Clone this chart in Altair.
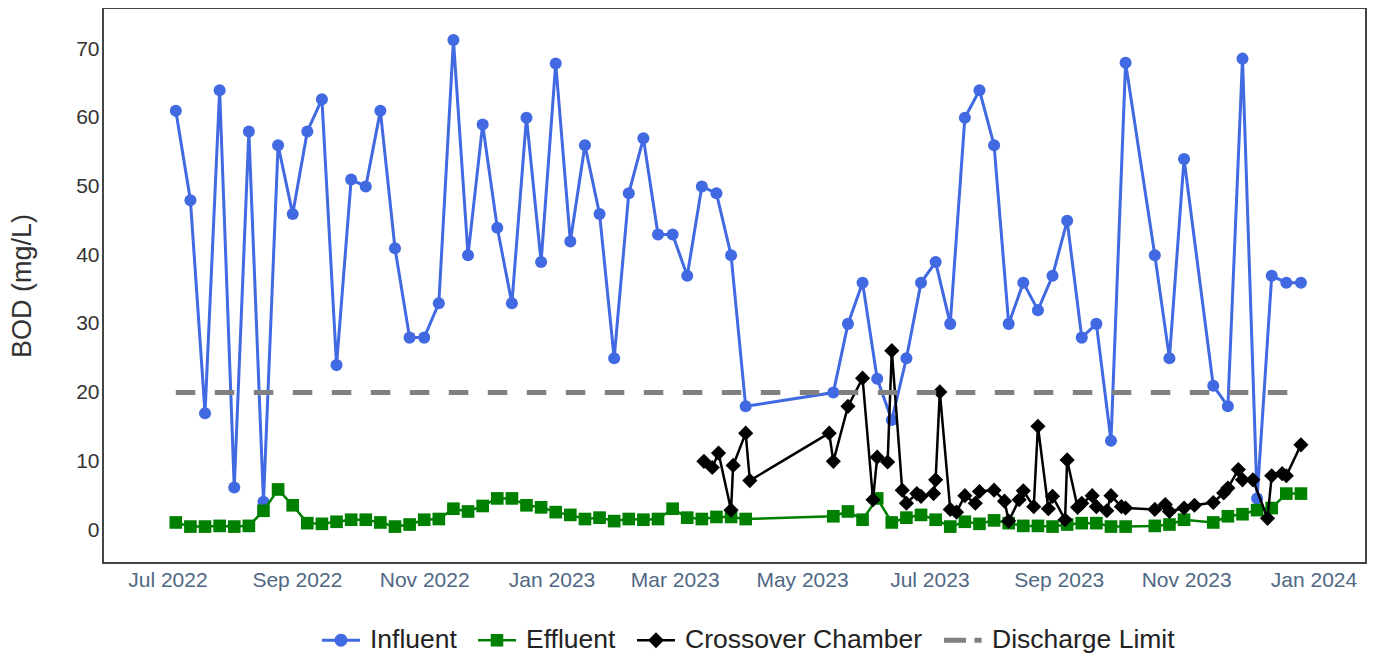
import altair as alt
import pandas as pd

# ---------------- data ----------------
week_dates = [
    "2022-07-05", "2022-07-12", "2022-07-19", "2022-07-26", "2022-08-02", "2022-08-09",
    "2022-08-16", "2022-08-23", "2022-08-30", "2022-09-06", "2022-09-13", "2022-09-20",
    "2022-09-27", "2022-10-04", "2022-10-11", "2022-10-18", "2022-10-25", "2022-11-01",
    "2022-11-08", "2022-11-15", "2022-11-22", "2022-11-29", "2022-12-06", "2022-12-13",
    "2022-12-20", "2022-12-27",
    "2023-01-03", "2023-01-10", "2023-01-17", "2023-01-24", "2023-01-31", "2023-02-07",
    "2023-02-14", "2023-02-21", "2023-02-28", "2023-03-07", "2023-03-14", "2023-03-21",
    "2023-03-28", "2023-04-04",
    "2023-05-16", "2023-05-23", "2023-05-30", "2023-06-06", "2023-06-13", "2023-06-20",
    "2023-06-27",
    "2023-07-04", "2023-07-11", "2023-07-18", "2023-07-25", "2023-08-01", "2023-08-08",
    "2023-08-15", "2023-08-22", "2023-08-29", "2023-09-05", "2023-09-12", "2023-09-19",
    "2023-09-26", "2023-10-03",
    "2023-10-17", "2023-10-24", "2023-10-31",
    "2023-11-14", "2023-11-21", "2023-11-28", "2023-12-05", "2023-12-12", "2023-12-19",
    "2023-12-26",
]

influent = [
    61, 48, 17, 64, 6.2, 58, 4.1, 56, 46, 58, 62.7, 24, 51, 50, 61, 41, 28, 28, 33, 71.3,
    40, 59, 44, 33, 60, 39,
    67.9, 42, 56, 46, 25, 49, 57, 43, 43, 37, 50, 49, 40, 18,
    20, 30, 36, 22, 16, 25, 36,
    39, 30, 60, 64, 56, 30, 36, 32, 37, 45, 28, 30, 13, 68,
    40, 25, 54,
    21, 18, 68.6, 4.6, 37, 36, 36,
]

effluent = [
    1.1, 0.5, 0.5, 0.6, 0.5, 0.6, 2.8, 5.9, 3.6, 1.0, 0.9, 1.2, 1.5, 1.5, 1.1, 0.5, 0.8,
    1.5, 1.6, 3.1, 2.7, 3.5, 4.6, 4.6, 3.6, 3.3,
    2.6, 2.2, 1.6, 1.8, 1.3, 1.6, 1.5, 1.6, 3.1, 1.8, 1.6, 1.9, 1.9, 1.6,
    2.0, 2.7, 1.5, 4.6, 1.1, 1.8, 2.2,
    1.5, 0.5, 1.2, 0.9, 1.4, 1.0, 0.6, 0.6, 0.5, 0.8, 1.0, 1.0, 0.5, 0.5,
    0.6, 0.8, 1.5,
    1.1, 2.0, 2.3, 2.9, 3.2, 5.3, 5.3,
]

crossover_dates = [
    "2023-03-15", "2023-03-19", "2023-03-22", "2023-03-28", "2023-03-29", "2023-04-04",
    "2023-04-06", "2023-05-14", "2023-05-16", "2023-05-23", "2023-05-30", "2023-06-04",
    "2023-06-06", "2023-06-11", "2023-06-13", "2023-06-18", "2023-06-20", "2023-06-25",
    "2023-06-27", "2023-07-03", "2023-07-04", "2023-07-06", "2023-07-11", "2023-07-14",
    "2023-07-18", "2023-07-23", "2023-07-25", "2023-08-01", "2023-08-06", "2023-08-08",
    "2023-08-13", "2023-08-15", "2023-08-20", "2023-08-22", "2023-08-27", "2023-08-29",
    "2023-09-04", "2023-09-05", "2023-09-10", "2023-09-12", "2023-09-17", "2023-09-19",
    "2023-09-24", "2023-09-26", "2023-10-01", "2023-10-03", "2023-10-17", "2023-10-22",
    "2023-10-24", "2023-10-31", "2023-11-05", "2023-11-14", "2023-11-19", "2023-11-21",
    "2023-11-26", "2023-11-28", "2023-12-03", "2023-12-10", "2023-12-12", "2023-12-17",
    "2023-12-19", "2023-12-26",
]

crossover = [
    10.0, 9.1, 11.2, 2.9, 9.4, 14.1,
    7.2, 14.1, 10.0, 18.0, 22.1, 4.4,
    10.6, 9.9, 26.1, 5.8, 3.9, 5.3,
    4.9, 5.3, 7.3, 20.1, 3.0, 2.6,
    5.0, 3.9, 5.6, 5.8, 4.2, 1.3,
    4.4, 5.7, 3.4, 15.1, 3.1, 4.9,
    1.5, 10.2, 3.3, 3.9, 5.0, 3.4,
    2.8, 5.0, 3.4, 3.2, 3.0, 3.7,
    2.7, 3.2, 3.6, 4.0, 5.4, 6.1,
    8.8, 7.3, 7.3, 1.7, 7.9, 8.2,
    7.9, 12.4,
]

limit_dates = ["2022-07-05", "2023-12-26"]
limit_values = [20, 20]

series_names = ["Influent", "Effluent", "Crossover Chamber", "Discharge Limit"]
series_colors = ["royalblue", "green", "black", "gray"]

x_tick_months = [(2022, 7), (2022, 9), (2022, 11), (2023, 1), (2023, 3),
                 (2023, 5), (2023, 7), (2023, 9), (2023, 11), (2024, 1)]
y_ticks = [0, 10, 20, 30, 40, 50, 60, 70]

# ---------------- tables ----------------
df_in = pd.DataFrame({"date": week_dates, "value": influent})
df_ef = pd.DataFrame({"date": week_dates, "value": effluent})
df_cr = pd.DataFrame({"date": crossover_dates, "value": crossover})
df_lim = pd.DataFrame({"date": limit_dates, "value": limit_values})
df_leg = pd.DataFrame({"series": series_names})

FONT = "Liberation Sans"

x_enc = alt.X(
    "date:T",
    scale=alt.Scale(
        type="utc",
        domain=[alt.DateTime(year=2022, month=5, date=31, hours=3, utc=True),
                alt.DateTime(year=2024, month=1, date=26, hours=4, utc=True)],
    ),
    axis=alt.Axis(
        title=None,
        values=[alt.DateTime(year=y, month=m, date=1, utc=True) for y, m in x_tick_months],
        format="%b %Y",
        labelFontSize=21,
        labelFont=FONT,
        labelColor="#506784",
        labelPadding=6,
        labelFlush=False,
        grid=False,
        ticks=False,
        domain=False,
    ),
)

y_enc = alt.Y(
    "value:Q",
    scale=alt.Scale(domain=[-4.8, 75.97], nice=False, zero=False),
    axis=alt.Axis(
        title="BOD (mg/L)",
        values=y_ticks,
        labelFontSize=21,
        labelFont=FONT,
        labelColor="#333333",
        labelPadding=4,
        titleFontSize=27,
        titleFont=FONT,
        titleFontWeight="normal",
        titleColor="#333333",
        titlePadding=39,
        grid=False,
        ticks=False,
        domain=False,
    ),
)

def line_layer(df, color, width):
    return alt.Chart(df).mark_line(color=color, strokeWidth=width).encode(x=x_enc, y=y_enc)

def point_layer(df, color, shape, size):
    return alt.Chart(df).mark_point(
        filled=True, color=color, shape=shape, size=size, opacity=1, strokeWidth=0
    ).encode(x=x_enc, y=y_enc)

limit_line = alt.Chart(df_lim).mark_line(
    color="gray", strokeWidth=5, strokeDash=[19.5, 19.5], strokeCap="butt"
).encode(x=x_enc, y=y_enc)

legend_paths = [
    "M-1,-0.075H-0.3V0.075H-1Z M0.3,-0.075H1V0.075H0.3Z "
    "M-0.34,0A0.34,0.34 0 1,1 0.34,0A0.34,0.34 0 1,1 -0.34,0Z",
    "M-1,-0.065H-0.3V0.065H-1Z M0.3,-0.065H1V0.065H0.3Z M-0.33,-0.33H0.33V0.33H-0.33Z",
    "M-1,-0.065H-0.3V0.065H-1Z M0.3,-0.065H1V0.065H0.3Z M0,-0.42L0.42,0L0,0.42L-0.42,0Z",
    "M-1,-0.13H0.16V0.13H-1Z M0.6,-0.13H0.98V0.13H0.6Z",
]

legend_cfg = alt.Legend(
    title=None,
    orient="none",
    legendX=219,
    legendY=613,
    direction="horizontal",
    symbolSize=1444,
    symbolStrokeWidth=0,
    symbolOpacity=1,
    labelFontSize=26.5,
    labelFont=FONT,
    labelColor="#222222",
    labelOffset=10,
    labelLimit=600,
    columnPadding=21,
    padding=0,
)

legend_layer = alt.Chart(df_leg).mark_point(filled=True, opacity=1).encode(
    color=alt.Color("series:N",
                    scale=alt.Scale(domain=series_names, range=series_colors),
                    legend=legend_cfg),
    shape=alt.Shape("series:N",
                    scale=alt.Scale(domain=series_names, range=legend_paths),
                    legend=legend_cfg),
).transform_filter("false")

chart = alt.layer(
    line_layer(df_in, "royalblue", 3),
    point_layer(df_in, "royalblue", "circle", 145),
    line_layer(df_ef, "green", 2.5),
    point_layer(df_ef, "green", "square", 160),
    line_layer(df_cr, "black", 2.5),
    point_layer(df_cr, "black", "diamond", 230),
    limit_line,
    legend_layer,
).properties(
    width=1263,
    height=555,
    padding={"left": 95, "top": 0, "right": 2, "bottom": 90},
    autosize=alt.AutoSizeParams(type="none"),
    background="white",
).configure_view(
    stroke="#444444",
    strokeWidth=2,
)

chart.save("out.html", embed_options={"renderer": "svg", "actions": False})
